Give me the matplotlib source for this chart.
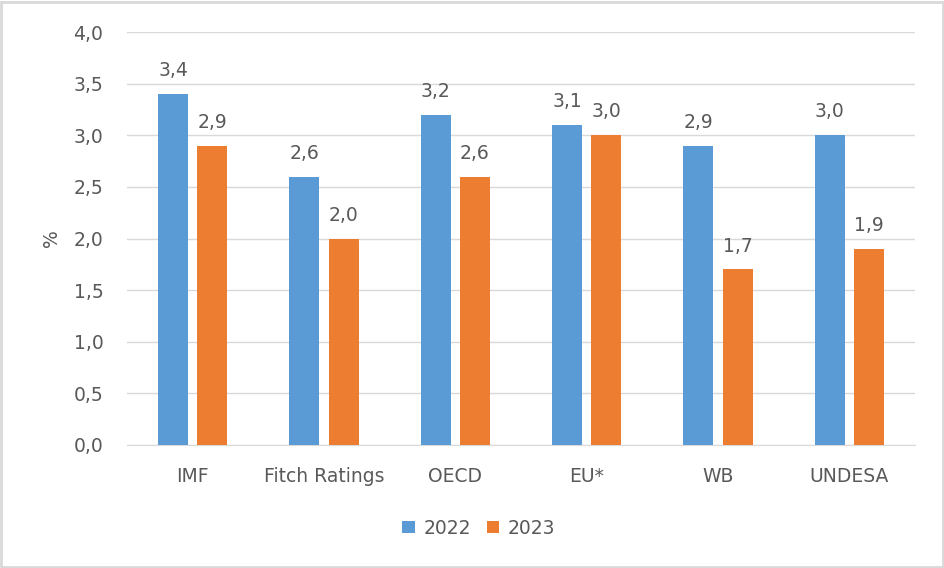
import matplotlib
matplotlib.use("Agg")
import matplotlib.pyplot as plt
import numpy as np

categories = ["IMF", "Fitch Ratings", "OECD", "EU*", "WB", "UNDESA"]
values_2022 = [3.4, 2.6, 3.2, 3.1, 2.9, 3.0]
values_2023 = [2.9, 2.0, 2.6, 3.0, 1.7, 1.9]
series_names = ["2022", "2023"]
yticks = [0.0, 0.5, 1.0, 1.5, 2.0, 2.5, 3.0, 3.5, 4.0]

blue = "#5B9BD5"
orange = "#ED7D31"
txt = "#595959"
fs = 13.5

plt.rcParams['font.family'] = ['DejaVu Sans']

fig = plt.figure(figsize=(9.45, 5.68), dpi=100)
ax = fig.add_axes([127/945, 1-445/568, (915-127)/945, (445-32)/568])

x = np.arange(len(categories))
w = 0.228
gap = 0.07
b1 = ax.bar(x - w/2 - gap/2, values_2022, w, color=blue, label=series_names[0], zorder=3)
b2 = ax.bar(x + w/2 + gap/2, values_2023, w, color=orange, label=series_names[1], zorder=3)

def fmt(v):
    return f"{v:.1f}".replace(".", ",")

for bars, vals in ((b1, values_2022), (b2, values_2023)):
    for r, v in zip(bars, vals):
        ax.annotate(fmt(v), (r.get_x() + r.get_width()/2, v), xytext=(0, 10),
                    textcoords="offset points", ha="center", va="bottom",
                    fontsize=fs, color=txt)

ax.set_xlim(-0.5, len(categories) - 0.5)
ax.set_ylim(0, 4.0)
ax.set_yticks(yticks)
ax.set_yticklabels([fmt(t) for t in yticks], fontsize=fs, color=txt)
ax.set_xticks(x)
ax.set_xticklabels(categories, fontsize=fs, color=txt)
ax.tick_params(axis='both', length=0)
ax.tick_params(axis='y', pad=17)
ax.tick_params(axis='x', pad=16)
ax.grid(axis='y', color="#D9D9D9", linewidth=1, zorder=0)
for s in ["top", "right", "left"]:
    ax.spines[s].set_visible(False)
ax.spines["bottom"].set_color("#D9D9D9")
ax.set_ylabel("%", fontsize=fs, color=txt, labelpad=9)

leg = fig.legend(handles=[b1, b2], labels=series_names, loc="center",
                 bbox_to_anchor=(479/945, 1-528/568), ncol=2, frameon=False,
                 fontsize=fs, handlelength=0.65, handleheight=0.65,
                 handletextpad=0.5, columnspacing=0.8)
for t in leg.get_texts():
    t.set_color(txt)

fig.patches.append(matplotlib.patches.Rectangle((0.001, 0.002), 0.997, 0.995,
                   transform=fig.transFigure, fill=False, edgecolor="#D9D9D9",
                   linewidth=2))

fig.savefig("out.png", dpi=100, facecolor="white")
